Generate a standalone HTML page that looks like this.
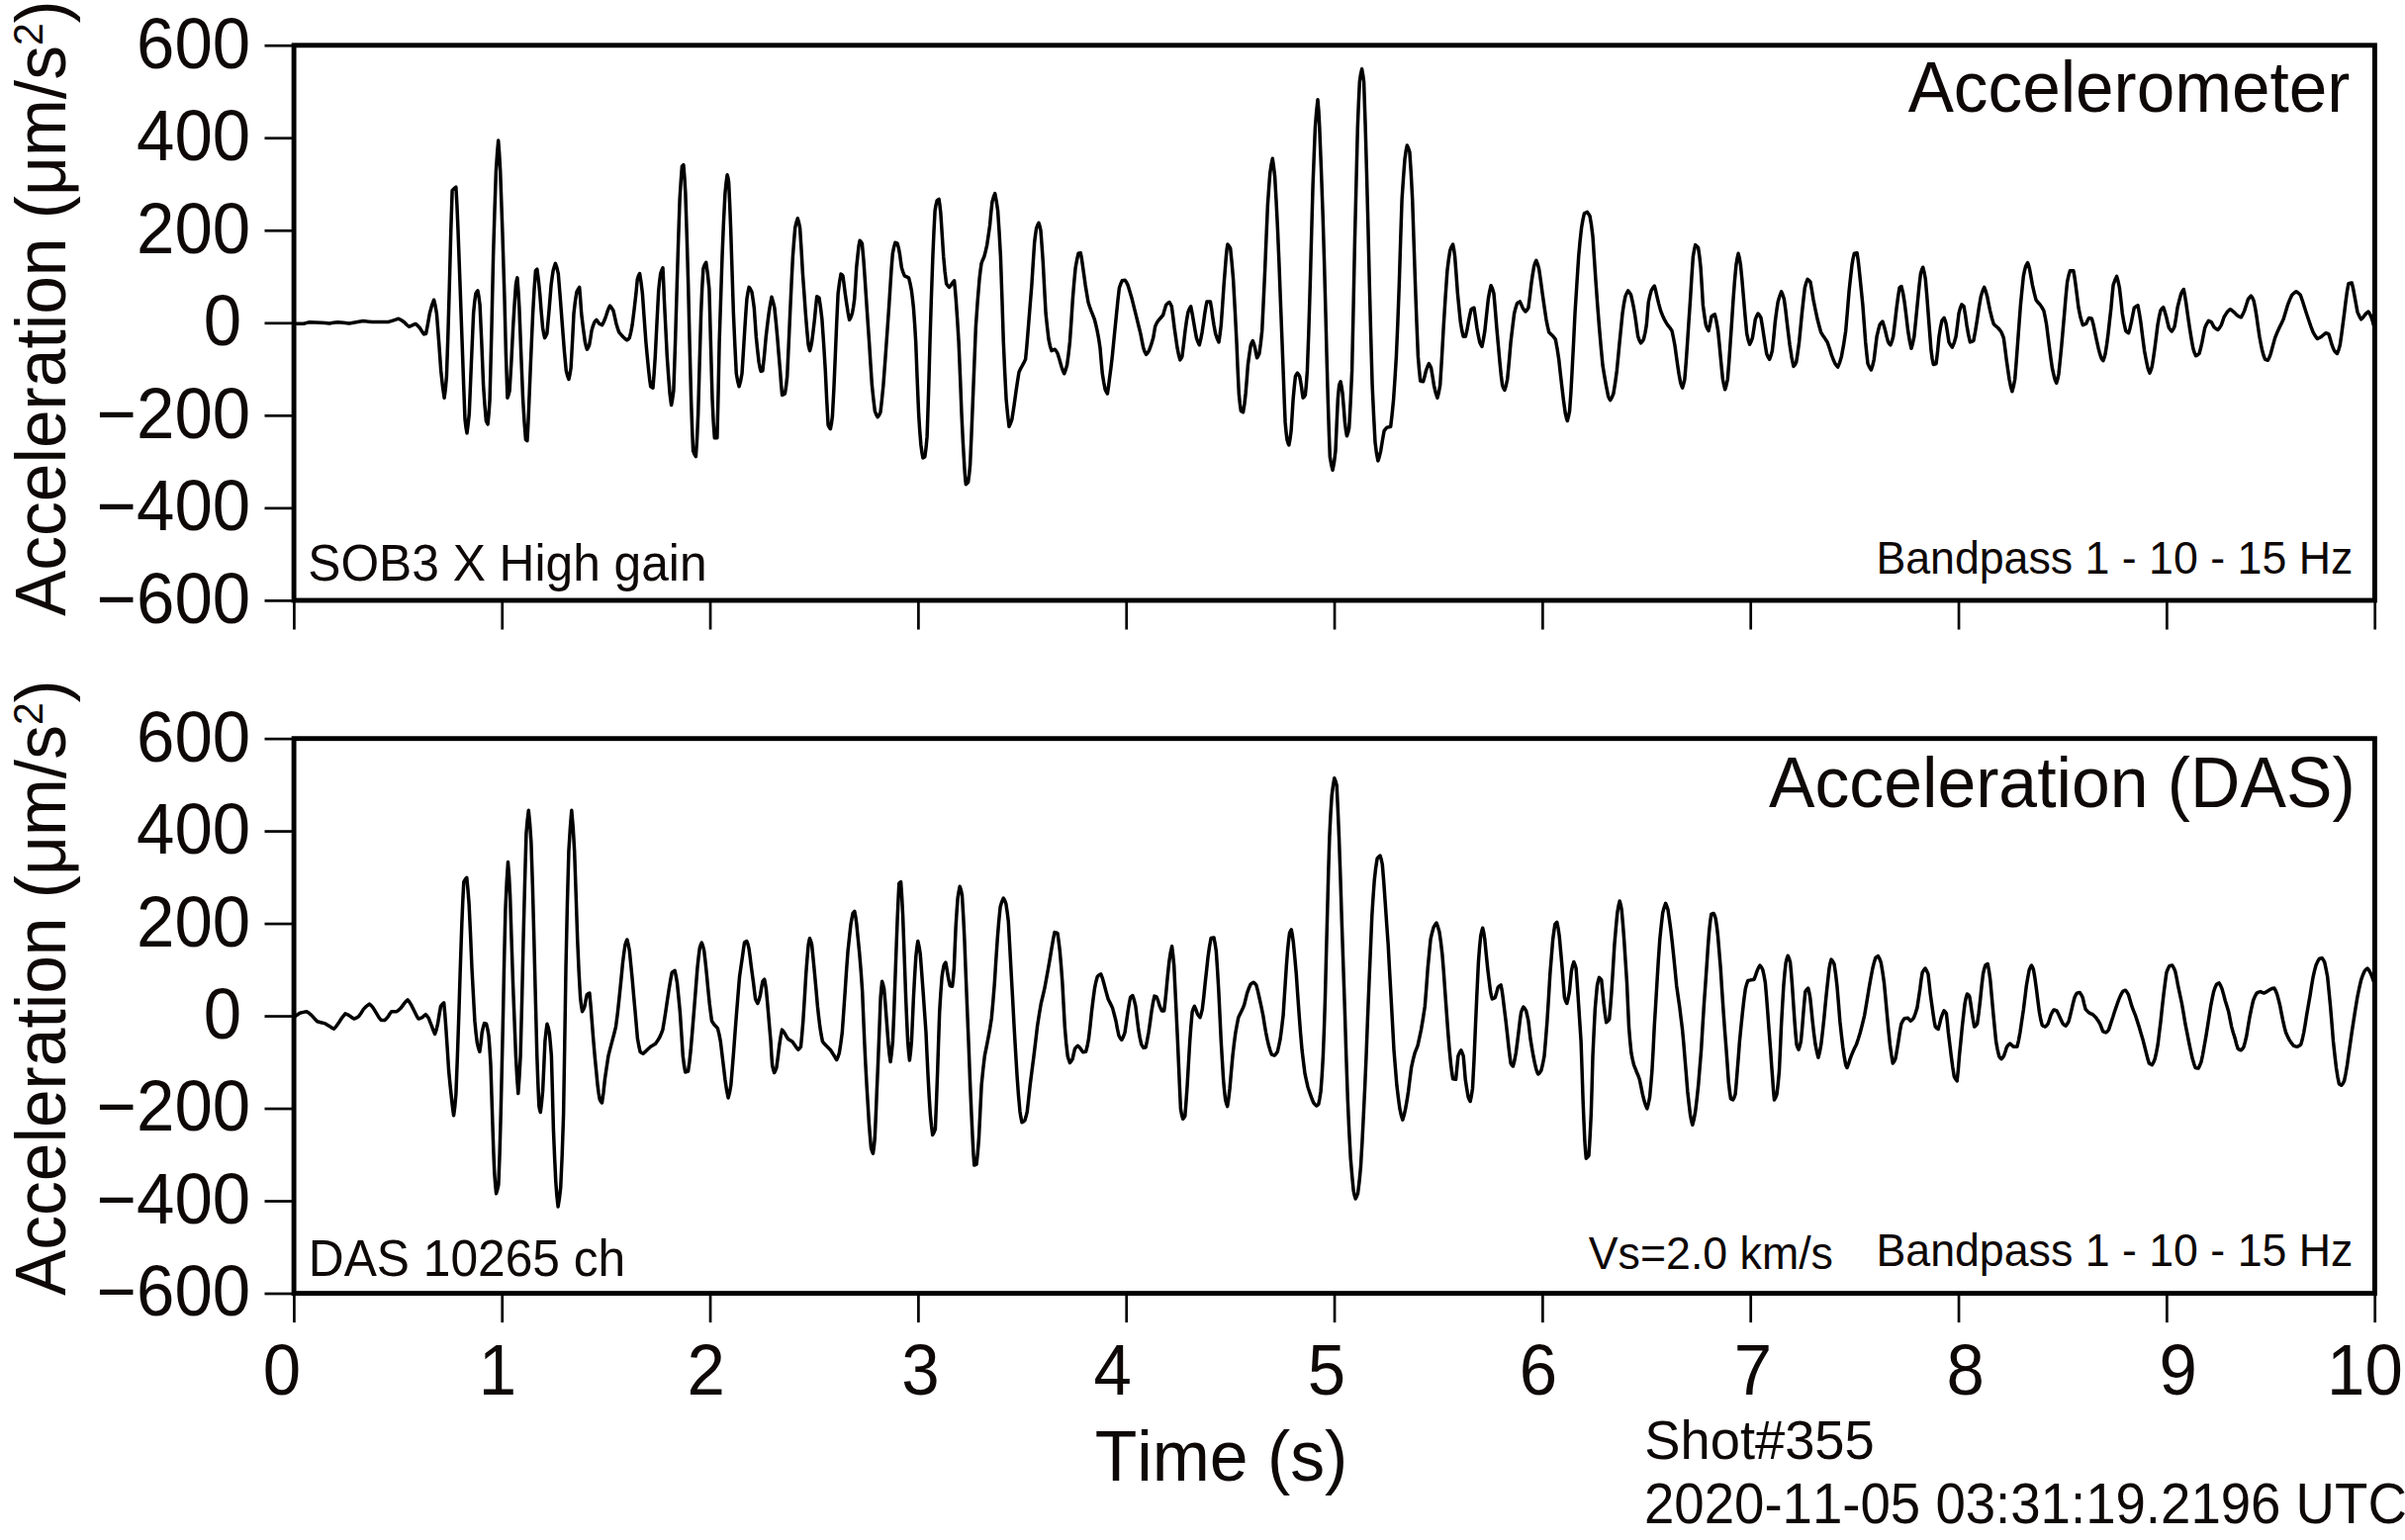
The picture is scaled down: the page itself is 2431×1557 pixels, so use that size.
<!DOCTYPE html><html><head><meta charset="utf-8"><title>Accelerometer vs DAS</title>
<style>html,body{margin:0;padding:0;background:#fff;overflow:hidden}svg{display:block}text{font-family:"Liberation Sans",sans-serif;fill:#0e0807;font-kerning:none;font-variant-ligatures:none}</style></head><body>
<svg width="2431" height="1557" viewBox="0 0 2431 1557">
<rect width="2431" height="1557" fill="#fff"/>
<rect x="297.1" y="45.8" width="2103.3" height="561.2" fill="none" stroke="#000" stroke-width="4.9"/>
<line x1="267.5" x2="297.1" y1="46.20" y2="46.20" stroke="#000" stroke-width="2.7"/>
<line x1="267.5" x2="297.1" y1="139.73" y2="139.73" stroke="#000" stroke-width="2.7"/>
<line x1="267.5" x2="297.1" y1="233.27" y2="233.27" stroke="#000" stroke-width="2.7"/>
<line x1="267.5" x2="297.1" y1="326.80" y2="326.80" stroke="#000" stroke-width="2.7"/>
<line x1="267.5" x2="297.1" y1="420.33" y2="420.33" stroke="#000" stroke-width="2.7"/>
<line x1="267.5" x2="297.1" y1="513.87" y2="513.87" stroke="#000" stroke-width="2.7"/>
<line x1="267.5" x2="297.1" y1="607.40" y2="607.40" stroke="#000" stroke-width="2.7"/>
<line x1="297.40" x2="297.40" y1="607.0" y2="636.5" stroke="#000" stroke-width="2.7"/>
<line x1="507.73" x2="507.73" y1="607.0" y2="636.5" stroke="#000" stroke-width="2.7"/>
<line x1="718.06" x2="718.06" y1="607.0" y2="636.5" stroke="#000" stroke-width="2.7"/>
<line x1="928.39" x2="928.39" y1="607.0" y2="636.5" stroke="#000" stroke-width="2.7"/>
<line x1="1138.72" x2="1138.72" y1="607.0" y2="636.5" stroke="#000" stroke-width="2.7"/>
<line x1="1349.05" x2="1349.05" y1="607.0" y2="636.5" stroke="#000" stroke-width="2.7"/>
<line x1="1559.38" x2="1559.38" y1="607.0" y2="636.5" stroke="#000" stroke-width="2.7"/>
<line x1="1769.71" x2="1769.71" y1="607.0" y2="636.5" stroke="#000" stroke-width="2.7"/>
<line x1="1980.04" x2="1980.04" y1="607.0" y2="636.5" stroke="#000" stroke-width="2.7"/>
<line x1="2190.37" x2="2190.37" y1="607.0" y2="636.5" stroke="#000" stroke-width="2.7"/>
<line x1="2400.70" x2="2400.70" y1="607.0" y2="636.5" stroke="#000" stroke-width="2.7"/>
<rect x="297.1" y="746.7" width="2103.3" height="560.9" fill="none" stroke="#000" stroke-width="4.9"/>
<line x1="267.5" x2="297.1" y1="747.10" y2="747.10" stroke="#000" stroke-width="2.7"/>
<line x1="267.5" x2="297.1" y1="840.58" y2="840.58" stroke="#000" stroke-width="2.7"/>
<line x1="267.5" x2="297.1" y1="934.07" y2="934.07" stroke="#000" stroke-width="2.7"/>
<line x1="267.5" x2="297.1" y1="1027.55" y2="1027.55" stroke="#000" stroke-width="2.7"/>
<line x1="267.5" x2="297.1" y1="1121.03" y2="1121.03" stroke="#000" stroke-width="2.7"/>
<line x1="267.5" x2="297.1" y1="1214.52" y2="1214.52" stroke="#000" stroke-width="2.7"/>
<line x1="267.5" x2="297.1" y1="1308.00" y2="1308.00" stroke="#000" stroke-width="2.7"/>
<line x1="297.40" x2="297.40" y1="1307.6" y2="1337.1" stroke="#000" stroke-width="2.7"/>
<line x1="507.73" x2="507.73" y1="1307.6" y2="1337.1" stroke="#000" stroke-width="2.7"/>
<line x1="718.06" x2="718.06" y1="1307.6" y2="1337.1" stroke="#000" stroke-width="2.7"/>
<line x1="928.39" x2="928.39" y1="1307.6" y2="1337.1" stroke="#000" stroke-width="2.7"/>
<line x1="1138.72" x2="1138.72" y1="1307.6" y2="1337.1" stroke="#000" stroke-width="2.7"/>
<line x1="1349.05" x2="1349.05" y1="1307.6" y2="1337.1" stroke="#000" stroke-width="2.7"/>
<line x1="1559.38" x2="1559.38" y1="1307.6" y2="1337.1" stroke="#000" stroke-width="2.7"/>
<line x1="1769.71" x2="1769.71" y1="1307.6" y2="1337.1" stroke="#000" stroke-width="2.7"/>
<line x1="1980.04" x2="1980.04" y1="1307.6" y2="1337.1" stroke="#000" stroke-width="2.7"/>
<line x1="2190.37" x2="2190.37" y1="1307.6" y2="1337.1" stroke="#000" stroke-width="2.7"/>
<line x1="2400.70" x2="2400.70" y1="1307.6" y2="1337.1" stroke="#000" stroke-width="2.7"/>
<path d="M297.1 327.2 L302.1 327.2 L307.1 327.2 L310.0 326.4 L312.9 325.7 L318.6 326.0 L324.3 326.3 L328.6 326.6 L332.9 326.9 L337.1 326.3 L341.4 325.7 L347.1 326.3 L352.9 326.9 L360.0 325.7 L367.1 324.5 L371.4 325.0 L375.7 325.4 L384.3 325.4 L392.9 325.4 L397.9 323.8 L402.9 322.2 L405.7 323.7 L408.6 325.7 L411.0 328.2 L413.4 330.3 L416.7 328.9 L420.0 327.4 L422.1 329.2 L424.3 331.5 L426.4 334.9 L428.6 337.9 L429.6 337.6 L430.6 337.3 L432.4 327.9 L434.3 317.0 L436.4 309.1 L438.6 303.2 L440.0 309.0 L441.4 317.0 L443.6 345.2 L445.7 374.9 L447.4 390.5 L449.1 402.3 L450.3 393.3 L451.4 380.6 L452.9 337.4 L454.3 288.1 L455.7 235.4 L457.1 192.7 L459.0 190.6 L460.9 189.2 L461.9 207.2 L462.9 230.3 L465.0 287.1 L467.1 345.9 L468.6 387.6 L470.0 424.0 L471.0 432.2 L472.0 437.9 L473.1 429.6 L474.3 418.2 L476.4 367.7 L478.6 317.0 L479.7 305.6 L480.9 296.8 L481.9 295.1 L482.9 293.9 L484.0 299.9 L485.1 308.4 L486.9 347.5 L488.6 389.3 L490.0 409.5 L491.4 425.5 L492.3 427.5 L493.1 428.9 L494.1 418.4 L495.1 403.8 L496.9 334.7 L498.6 259.2 L500.0 213.1 L501.4 172.5 L502.6 154.9 L503.7 142.1 L504.7 155.1 L505.7 172.5 L507.9 234.3 L510.0 302.6 L511.4 357.7 L512.9 402.3 L514.0 399.4 L515.1 395.1 L516.9 365.5 L518.6 331.5 L520.0 308.3 L521.4 288.1 L522.1 283.9 L522.9 280.9 L523.9 294.0 L524.9 311.2 L526.7 357.6 L528.6 403.8 L530.0 426.6 L531.4 444.3 L532.1 445.1 L532.9 445.7 L533.6 433.6 L534.3 418.2 L536.4 367.0 L538.6 317.0 L540.0 292.7 L541.4 273.7 L542.1 272.8 L542.9 272.2 L544.3 282.9 L545.7 296.8 L547.1 314.6 L548.6 331.5 L549.6 337.3 L550.6 341.6 L551.7 339.8 L552.9 337.3 L555.0 314.0 L557.1 288.1 L558.1 280.4 L559.1 273.7 L560.3 269.5 L561.4 266.4 L562.9 270.6 L564.3 276.6 L566.4 302.4 L568.6 331.5 L570.4 354.7 L572.3 374.9 L573.6 379.9 L574.9 383.5 L576.0 378.8 L577.1 372.0 L578.6 345.0 L580.0 317.0 L581.4 304.9 L582.9 295.3 L584.3 292.4 L585.7 290.4 L586.7 302.6 L587.7 317.0 L589.6 332.6 L591.4 345.9 L592.4 350.1 L593.4 353.2 L594.6 351.4 L595.7 348.8 L596.9 341.8 L598.0 334.4 L599.4 329.6 L600.9 325.7 L601.9 324.4 L602.9 323.4 L604.3 325.2 L605.7 327.2 L607.1 328.0 L608.6 328.6 L610.0 326.1 L611.4 322.8 L612.9 318.5 L614.3 314.1 L615.4 311.4 L616.6 309.2 L618.3 311.3 L620.0 314.1 L621.4 320.4 L622.9 327.2 L624.3 331.8 L625.7 335.8 L627.9 338.5 L630.0 340.7 L631.9 342.5 L633.7 343.9 L635.0 343.0 L636.3 341.6 L637.7 335.8 L639.1 328.6 L641.0 313.4 L642.9 296.8 L643.6 289.1 L644.3 282.3 L645.4 278.9 L646.6 276.6 L648.0 285.2 L649.4 296.8 L651.1 320.9 L652.9 345.9 L654.3 360.9 L655.7 374.9 L656.7 383.7 L657.7 390.8 L658.9 391.6 L660.0 392.2 L661.1 378.4 L662.3 360.4 L664.0 326.3 L665.7 293.9 L666.7 284.4 L667.7 276.6 L668.9 273.2 L670.0 270.8 L670.7 285.0 L671.4 302.6 L672.9 332.4 L674.3 360.4 L675.7 380.2 L677.1 398.0 L677.9 404.6 L678.6 409.6 L679.7 403.6 L680.9 395.1 L682.6 345.6 L684.3 288.1 L685.7 242.9 L687.1 201.4 L688.3 182.5 L689.4 168.1 L690.1 167.3 L690.9 166.7 L691.9 178.9 L692.9 195.6 L694.3 239.2 L695.7 288.1 L697.1 346.7 L698.6 403.8 L699.6 432.9 L700.6 455.8 L702.0 459.3 L703.4 461.6 L704.6 443.1 L705.7 418.2 L707.1 367.8 L708.6 317.0 L709.7 291.4 L710.9 271.3 L712.3 267.7 L713.7 265.3 L715.3 276.4 L716.9 292.5 L718.4 346.6 L720.0 403.8 L721.1 426.2 L722.3 442.8 L723.6 442.8 L724.9 442.8 L726.0 399.0 L727.1 345.9 L728.6 301.0 L730.0 259.2 L731.4 225.2 L732.9 195.6 L734.0 184.7 L735.1 176.8 L735.9 179.8 L736.6 184.0 L737.6 205.1 L738.6 230.3 L740.0 273.8 L741.4 317.0 L742.9 350.2 L744.3 377.8 L745.7 385.5 L747.1 390.8 L748.6 385.4 L750.0 377.8 L751.4 355.9 L752.9 331.5 L753.9 316.2 L754.9 302.6 L756.0 295.5 L757.1 290.4 L758.6 292.4 L760.0 295.3 L761.1 302.4 L762.3 311.2 L763.3 325.5 L764.3 340.2 L765.7 354.0 L767.1 366.2 L768.1 371.5 L769.1 375.4 L770.0 375.2 L770.9 374.9 L772.6 359.1 L774.3 340.2 L775.7 328.3 L777.1 317.0 L778.6 307.6 L780.0 300.3 L781.4 304.9 L782.9 311.2 L784.3 324.8 L785.7 340.2 L787.1 357.3 L788.6 374.9 L789.6 388.5 L790.6 399.4 L792.0 398.9 L793.4 398.0 L794.6 390.6 L795.7 380.6 L797.1 350.5 L798.6 317.0 L800.0 287.2 L801.4 259.2 L802.6 243.5 L803.7 230.3 L805.0 224.7 L806.3 220.7 L807.4 224.7 L808.6 230.3 L810.0 252.0 L811.4 276.6 L812.9 297.2 L814.3 317.0 L815.7 334.0 L817.1 348.8 L817.9 352.2 L818.6 354.6 L819.6 350.9 L820.6 345.9 L822.0 334.9 L823.4 322.8 L824.6 310.1 L825.7 299.7 L826.9 300.3 L828.0 301.1 L829.4 310.5 L830.9 322.8 L832.6 347.5 L834.3 374.9 L835.7 404.6 L837.1 429.8 L838.3 432.1 L839.4 433.6 L840.4 428.4 L841.4 421.1 L842.9 392.8 L844.3 360.4 L845.7 326.8 L847.1 296.8 L848.6 285.3 L850.0 277.1 L851.0 277.8 L852.0 278.9 L853.1 287.1 L854.3 296.8 L855.7 306.4 L857.1 315.6 L857.9 320.0 L858.6 323.4 L860.0 320.8 L861.4 317.0 L862.6 310.5 L863.7 302.6 L864.7 287.0 L865.7 270.8 L866.9 259.2 L868.0 249.1 L868.6 245.8 L869.1 243.3 L870.3 244.5 L871.4 246.2 L872.9 262.4 L874.3 282.3 L876.4 313.8 L878.6 345.9 L880.0 368.2 L881.4 389.3 L882.9 403.6 L884.3 415.3 L885.7 419.1 L887.1 421.7 L888.6 419.7 L890.0 416.8 L891.4 404.4 L892.9 389.3 L895.0 361.2 L897.1 331.5 L898.6 309.8 L900.0 288.1 L901.1 271.2 L902.3 256.3 L903.6 249.9 L904.9 245.3 L906.0 245.7 L907.1 246.2 L908.3 250.6 L909.4 256.3 L910.4 263.7 L911.4 270.8 L912.9 275.4 L914.3 278.9 L916.4 279.9 L918.6 280.9 L920.0 286.6 L921.4 293.9 L922.4 302.0 L923.4 311.2 L924.6 327.6 L925.7 345.9 L927.1 382.3 L928.6 418.2 L929.7 435.3 L930.9 450.0 L931.9 457.5 L932.9 463.0 L933.9 462.5 L934.9 461.6 L936.0 453.1 L937.1 441.4 L938.6 396.6 L940.0 345.9 L941.4 301.3 L942.9 259.2 L944.0 234.0 L945.1 212.9 L946.1 207.1 L947.1 202.8 L948.1 202.0 L949.1 201.4 L950.0 207.6 L950.9 215.8 L952.3 237.3 L953.7 259.2 L955.1 274.5 L956.6 286.7 L958.0 288.9 L959.4 290.4 L960.9 288.8 L962.3 286.7 L963.4 285.1 L964.6 283.8 L965.4 292.0 L966.3 302.6 L967.7 323.2 L969.1 345.9 L970.6 381.6 L972.0 418.2 L973.4 447.0 L974.9 473.2 L975.6 482.5 L976.3 489.7 L977.4 488.8 L978.6 487.6 L979.6 480.2 L980.6 470.3 L982.0 438.9 L983.4 403.8 L984.9 366.6 L986.3 331.5 L988.1 305.3 L990.0 282.3 L991.0 273.7 L992.0 266.4 L993.4 262.7 L994.9 259.2 L996.3 253.7 L997.7 247.6 L999.1 238.0 L1000.6 227.4 L1001.7 215.4 L1002.9 204.3 L1004.3 199.2 L1005.7 195.6 L1007.1 202.8 L1008.6 212.9 L1010.0 234.1 L1011.4 259.2 L1012.9 302.1 L1014.3 345.9 L1015.7 376.7 L1017.1 403.8 L1018.6 419.6 L1020.0 431.2 L1021.4 428.2 L1022.9 424.0 L1025.0 410.3 L1027.1 395.1 L1028.6 385.1 L1030.0 376.3 L1031.4 373.2 L1032.9 370.5 L1034.7 367.2 L1036.6 363.3 L1038.0 348.7 L1039.4 331.5 L1041.1 310.2 L1042.9 288.1 L1044.3 265.7 L1045.7 244.7 L1046.7 236.8 L1047.7 230.3 L1048.9 227.4 L1050.0 225.4 L1051.0 228.6 L1052.0 233.2 L1053.1 247.8 L1054.3 265.0 L1055.7 291.6 L1057.1 317.0 L1058.6 331.1 L1060.0 343.1 L1061.4 349.7 L1062.9 354.6 L1064.6 353.9 L1066.3 353.2 L1067.7 355.0 L1069.1 357.5 L1071.0 363.8 L1072.9 370.5 L1074.3 374.6 L1075.7 377.8 L1077.1 374.1 L1078.6 369.1 L1080.0 358.5 L1081.4 345.9 L1082.9 324.6 L1084.3 302.6 L1085.7 285.7 L1087.1 270.8 L1088.6 262.5 L1090.0 256.3 L1091.1 256.0 L1092.3 255.7 L1093.3 261.1 L1094.3 267.9 L1095.7 278.0 L1097.1 288.1 L1098.6 297.2 L1100.0 305.5 L1101.4 310.0 L1102.9 314.1 L1104.6 318.4 L1106.3 322.8 L1107.7 328.3 L1109.1 334.4 L1110.6 342.5 L1112.0 351.7 L1113.1 364.8 L1114.3 377.8 L1115.7 386.5 L1117.1 393.7 L1118.3 396.2 L1119.4 398.0 L1120.4 391.6 L1121.4 383.5 L1122.9 372.2 L1124.3 360.4 L1126.4 338.9 L1128.6 317.0 L1130.0 303.1 L1131.4 291.0 L1132.9 286.8 L1134.3 283.8 L1135.7 283.4 L1137.1 283.2 L1138.6 285.3 L1140.0 288.1 L1142.1 295.0 L1144.3 302.6 L1146.4 311.2 L1148.6 319.9 L1150.7 328.5 L1152.9 337.3 L1154.3 344.7 L1155.7 351.7 L1157.1 355.6 L1158.6 358.4 L1160.0 356.8 L1161.4 354.6 L1163.6 348.7 L1165.7 341.6 L1166.7 335.7 L1167.7 330.0 L1169.1 326.9 L1170.6 324.3 L1173.1 321.5 L1175.7 318.5 L1177.1 313.4 L1178.6 308.4 L1180.3 306.6 L1182.0 305.5 L1183.1 307.3 L1184.3 309.8 L1185.7 319.9 L1187.1 331.5 L1188.6 341.9 L1190.0 351.7 L1191.4 358.7 L1192.9 363.9 L1193.9 362.4 L1194.9 360.4 L1196.4 348.2 L1198.0 334.4 L1199.4 324.3 L1200.9 315.6 L1202.3 312.2 L1203.7 309.8 L1205.1 316.9 L1206.6 325.7 L1208.0 334.0 L1209.4 341.6 L1210.9 345.8 L1212.3 348.8 L1213.7 343.2 L1215.1 335.8 L1216.6 325.8 L1218.0 315.6 L1219.0 309.6 L1220.0 304.9 L1221.7 304.9 L1223.4 304.9 L1224.6 311.6 L1225.7 319.9 L1227.1 329.0 L1228.6 337.3 L1230.3 342.3 L1232.0 345.9 L1233.1 338.5 L1234.3 328.6 L1235.7 308.9 L1237.1 288.1 L1238.3 273.2 L1239.4 259.2 L1240.1 252.3 L1240.9 247.1 L1242.3 248.7 L1243.7 251.1 L1245.1 264.9 L1246.6 282.3 L1248.3 312.8 L1250.0 345.9 L1251.1 373.0 L1252.3 398.0 L1253.3 407.9 L1254.3 415.3 L1255.4 416.2 L1256.6 416.8 L1257.9 408.7 L1259.1 398.0 L1260.3 383.5 L1261.4 369.1 L1262.9 358.0 L1264.3 348.8 L1265.3 346.3 L1266.3 344.5 L1267.4 347.6 L1268.6 351.7 L1269.6 357.2 L1270.6 361.8 L1271.7 360.1 L1272.9 357.5 L1274.3 347.3 L1275.7 334.4 L1277.1 305.7 L1278.6 273.7 L1280.0 239.6 L1281.4 207.2 L1282.6 190.1 L1283.7 175.4 L1285.0 166.6 L1286.3 160.3 L1287.4 167.9 L1288.6 178.2 L1290.0 202.6 L1291.4 230.3 L1292.9 265.8 L1294.3 302.6 L1295.7 338.7 L1297.1 374.9 L1298.1 402.2 L1299.1 426.9 L1300.0 436.5 L1300.9 444.3 L1301.9 447.7 L1302.9 450.0 L1304.0 444.0 L1305.1 435.6 L1306.1 420.0 L1307.1 403.8 L1308.3 391.0 L1309.4 380.6 L1310.4 378.6 L1311.4 377.2 L1312.6 378.6 L1313.7 380.6 L1314.7 386.0 L1315.7 392.2 L1316.4 397.8 L1317.1 402.3 L1318.3 401.2 L1319.4 399.4 L1320.4 388.8 L1321.4 374.9 L1322.9 334.0 L1324.3 288.1 L1325.7 237.0 L1327.1 186.9 L1328.3 156.2 L1329.4 129.1 L1330.7 112.7 L1332.0 100.8 L1332.9 111.7 L1333.7 126.2 L1335.4 168.7 L1337.1 215.8 L1338.6 265.4 L1340.0 317.0 L1341.1 360.9 L1342.3 403.8 L1343.3 435.4 L1344.3 461.6 L1345.7 469.8 L1347.1 475.2 L1348.6 467.2 L1350.0 455.8 L1351.1 430.2 L1352.3 403.8 L1353.0 395.8 L1353.7 389.3 L1354.4 387.3 L1355.1 385.8 L1356.1 391.0 L1357.1 398.0 L1358.3 412.4 L1359.4 426.9 L1360.4 434.8 L1361.4 440.8 L1362.6 437.5 L1363.7 432.7 L1365.1 407.3 L1366.6 374.9 L1368.0 312.2 L1369.4 244.7 L1370.9 184.7 L1372.3 129.1 L1373.3 103.7 L1374.3 82.8 L1375.4 75.1 L1376.6 69.8 L1377.6 75.2 L1378.6 82.8 L1380.0 123.6 L1381.4 172.5 L1382.9 229.9 L1384.3 288.1 L1385.7 340.6 L1387.1 389.3 L1388.6 420.8 L1390.0 447.1 L1391.4 458.1 L1392.9 465.9 L1394.3 461.6 L1395.7 455.8 L1397.4 445.2 L1399.1 435.6 L1400.6 433.6 L1402.0 432.1 L1403.9 431.7 L1405.7 431.2 L1407.1 419.3 L1408.6 403.8 L1410.0 383.2 L1411.4 360.4 L1412.9 325.6 L1414.3 288.1 L1415.7 243.4 L1417.1 201.4 L1418.6 179.4 L1420.0 160.9 L1421.1 152.9 L1422.3 147.0 L1423.6 149.7 L1424.9 153.7 L1426.3 174.8 L1427.7 201.4 L1429.1 243.8 L1430.6 288.1 L1432.0 326.3 L1433.4 360.4 L1434.6 374.5 L1435.7 385.0 L1437.1 385.5 L1438.6 385.8 L1440.0 380.8 L1441.4 374.9 L1442.9 370.8 L1444.3 367.6 L1445.4 369.4 L1446.6 372.0 L1448.0 380.3 L1449.4 389.3 L1451.1 396.7 L1452.9 402.3 L1454.3 397.0 L1455.7 389.3 L1457.4 362.2 L1459.1 331.5 L1461.0 301.2 L1462.9 273.7 L1464.3 262.5 L1465.7 253.4 L1467.1 249.7 L1468.6 247.1 L1469.6 252.2 L1470.6 259.2 L1472.0 277.5 L1473.4 296.8 L1474.9 312.0 L1476.3 325.7 L1477.7 334.0 L1479.1 340.2 L1480.3 340.2 L1481.4 340.2 L1482.9 333.7 L1484.3 325.7 L1485.7 318.6 L1487.1 312.7 L1488.6 311.8 L1490.0 311.2 L1491.4 320.4 L1492.9 331.5 L1494.3 339.2 L1495.7 345.9 L1496.9 348.5 L1498.0 350.3 L1499.4 343.4 L1500.9 334.4 L1502.6 318.4 L1504.3 302.6 L1505.7 294.6 L1507.1 288.7 L1508.6 292.0 L1510.0 296.8 L1511.4 313.0 L1512.9 331.5 L1514.6 350.6 L1516.3 369.1 L1517.4 380.0 L1518.6 389.3 L1519.7 392.4 L1520.9 394.5 L1522.3 389.9 L1523.7 383.5 L1525.4 365.5 L1527.1 345.9 L1528.9 330.6 L1530.6 317.0 L1532.0 311.4 L1533.4 306.9 L1534.9 305.7 L1536.3 304.9 L1537.7 307.8 L1539.1 311.2 L1540.6 313.4 L1542.0 315.0 L1543.4 313.5 L1544.9 311.2 L1546.3 300.5 L1547.7 288.1 L1549.1 278.2 L1550.6 269.3 L1551.7 265.8 L1552.9 263.3 L1554.3 267.0 L1555.7 272.2 L1557.4 284.0 L1559.1 296.8 L1561.0 310.1 L1562.9 322.8 L1564.3 329.9 L1565.7 335.8 L1567.1 337.4 L1568.6 338.7 L1570.4 340.7 L1572.3 343.1 L1574.0 352.2 L1575.7 363.3 L1577.1 376.1 L1578.6 389.3 L1580.4 404.5 L1582.3 418.2 L1583.3 422.4 L1584.3 425.5 L1585.4 421.3 L1586.6 415.3 L1587.9 396.7 L1589.1 374.9 L1590.6 346.0 L1592.0 317.0 L1593.9 287.0 L1595.7 259.2 L1597.1 243.9 L1598.6 230.3 L1600.0 222.1 L1601.4 215.8 L1602.9 215.0 L1604.3 214.4 L1605.7 216.2 L1607.1 218.7 L1608.6 227.7 L1610.0 239.0 L1611.4 259.9 L1612.9 282.3 L1614.7 307.4 L1616.6 331.5 L1618.3 351.1 L1620.0 369.1 L1621.7 379.6 L1623.4 389.3 L1624.6 395.4 L1625.7 400.9 L1626.7 403.1 L1627.7 404.6 L1629.3 401.9 L1630.9 398.0 L1632.6 387.4 L1634.3 374.9 L1635.7 360.7 L1637.1 345.9 L1638.6 331.1 L1640.0 317.0 L1641.4 307.6 L1642.9 299.7 L1644.3 296.3 L1645.7 293.9 L1647.1 295.7 L1648.6 298.2 L1650.0 304.3 L1651.4 311.2 L1652.6 318.3 L1653.7 325.7 L1654.7 333.3 L1655.7 340.2 L1657.1 344.1 L1658.6 346.8 L1660.0 345.3 L1661.4 343.1 L1662.9 336.6 L1664.3 328.6 L1665.3 316.9 L1666.3 305.5 L1667.7 299.1 L1669.1 293.9 L1670.7 291.0 L1672.3 289.0 L1673.6 293.8 L1674.9 299.7 L1676.7 307.1 L1678.6 314.1 L1680.4 318.7 L1682.3 322.8 L1684.0 325.8 L1685.7 328.6 L1687.9 331.3 L1690.0 334.4 L1691.4 341.0 L1692.9 348.8 L1694.3 358.9 L1695.7 369.1 L1697.1 378.2 L1698.6 386.4 L1699.6 389.7 L1700.6 392.2 L1701.7 388.6 L1702.9 383.5 L1704.3 366.1 L1705.7 345.9 L1707.1 324.4 L1708.6 302.6 L1710.0 279.6 L1711.4 259.2 L1712.6 252.5 L1713.7 247.6 L1715.1 248.8 L1716.6 250.5 L1717.9 259.4 L1719.1 270.8 L1720.3 289.6 L1721.4 308.4 L1722.9 319.6 L1724.3 328.6 L1725.7 332.0 L1727.1 334.4 L1728.6 327.3 L1730.0 319.9 L1731.7 318.7 L1733.4 317.9 L1735.0 324.9 L1736.6 334.4 L1738.0 348.3 L1739.4 363.3 L1740.4 373.9 L1741.4 383.5 L1742.6 389.4 L1743.7 393.7 L1745.0 389.5 L1746.3 383.5 L1747.7 366.0 L1749.1 345.9 L1750.6 324.2 L1752.0 302.6 L1753.4 284.2 L1754.9 267.9 L1756.0 261.2 L1757.1 256.3 L1758.3 261.2 L1759.4 267.9 L1760.9 283.1 L1762.3 299.7 L1764.0 319.5 L1765.7 337.3 L1767.1 343.7 L1768.6 348.3 L1770.0 345.5 L1771.4 341.6 L1772.9 332.2 L1774.3 322.8 L1775.7 319.4 L1777.1 317.0 L1778.6 318.8 L1780.0 321.4 L1781.7 331.5 L1783.4 343.1 L1784.6 350.7 L1785.7 357.5 L1787.1 360.9 L1788.6 363.3 L1790.0 359.7 L1791.4 354.6 L1792.9 340.8 L1794.3 325.7 L1795.7 315.0 L1797.1 305.5 L1798.9 299.3 L1800.6 294.8 L1802.0 298.0 L1803.4 302.6 L1804.9 313.5 L1806.3 325.7 L1807.7 337.5 L1809.1 348.8 L1811.0 361.1 L1812.9 370.5 L1814.3 368.8 L1815.7 366.2 L1817.1 357.0 L1818.6 345.9 L1820.0 331.7 L1821.4 317.0 L1822.9 303.2 L1824.3 291.0 L1825.7 285.9 L1827.1 282.3 L1828.6 283.5 L1830.0 285.2 L1831.4 293.3 L1832.9 302.6 L1835.0 313.0 L1837.1 322.8 L1838.9 329.7 L1840.6 335.8 L1842.4 338.9 L1844.3 341.6 L1845.7 343.7 L1847.1 345.9 L1849.3 352.3 L1851.4 359.0 L1853.1 363.5 L1854.9 367.6 L1856.3 369.6 L1857.7 371.1 L1859.6 366.6 L1861.4 360.4 L1863.6 348.4 L1865.7 334.4 L1867.4 314.6 L1869.1 293.9 L1870.6 280.3 L1872.0 267.9 L1873.1 261.3 L1874.3 256.3 L1875.7 256.0 L1877.1 255.7 L1878.3 263.6 L1879.4 273.7 L1881.1 290.5 L1882.9 308.4 L1884.3 327.2 L1885.7 345.9 L1886.9 357.8 L1888.0 367.6 L1889.7 371.4 L1891.4 374.0 L1892.9 369.5 L1894.3 363.3 L1895.7 351.8 L1897.1 340.2 L1898.6 333.8 L1900.0 328.6 L1901.4 326.6 L1902.9 325.1 L1904.3 329.2 L1905.7 334.4 L1907.1 340.4 L1908.6 345.9 L1909.7 347.6 L1910.9 348.8 L1912.3 345.2 L1913.7 340.2 L1915.4 326.3 L1917.1 311.2 L1918.6 300.1 L1920.0 291.0 L1921.0 290.1 L1922.0 289.6 L1923.6 296.4 L1925.1 305.5 L1926.9 319.9 L1928.6 334.4 L1930.3 344.6 L1932.0 352.3 L1933.4 347.2 L1934.9 340.2 L1936.7 322.1 L1938.6 302.6 L1940.0 288.7 L1941.4 276.6 L1942.6 272.8 L1943.7 270.2 L1945.0 275.3 L1946.3 282.3 L1947.7 298.7 L1949.1 317.0 L1950.6 336.5 L1952.0 354.6 L1953.1 362.6 L1954.3 368.5 L1955.7 368.2 L1957.1 367.6 L1958.6 354.9 L1960.0 340.2 L1961.4 331.4 L1962.9 324.3 L1964.0 322.6 L1965.1 321.4 L1966.1 323.8 L1967.1 327.2 L1968.6 336.8 L1970.0 345.9 L1971.7 349.0 L1973.4 351.2 L1975.3 346.6 L1977.1 340.2 L1978.6 328.6 L1980.0 317.0 L1981.4 311.7 L1982.9 307.8 L1984.0 308.6 L1985.1 309.8 L1986.6 318.5 L1988.0 328.6 L1989.7 338.4 L1991.4 345.9 L1993.1 345.4 L1994.9 344.5 L1996.7 334.8 L1998.6 322.8 L2000.4 310.8 L2002.3 299.7 L2004.0 294.3 L2005.7 290.4 L2007.2 294.4 L2008.7 299.7 L2010.1 306.8 L2011.6 314.1 L2013.4 321.5 L2015.3 327.7 L2017.4 329.7 L2019.6 331.5 L2021.3 333.5 L2023.0 335.8 L2024.1 338.5 L2025.3 341.6 L2026.7 351.9 L2028.1 363.3 L2029.6 373.7 L2031.0 383.5 L2032.4 390.5 L2033.9 395.7 L2035.3 390.6 L2036.7 383.5 L2038.1 365.8 L2039.6 345.9 L2041.0 326.9 L2042.4 308.4 L2043.9 293.0 L2045.3 279.4 L2046.4 273.9 L2047.6 269.3 L2048.6 267.1 L2049.6 265.6 L2050.6 268.4 L2051.6 272.2 L2053.0 280.1 L2054.4 288.1 L2056.3 296.4 L2058.1 303.4 L2060.3 306.0 L2062.4 308.4 L2064.1 311.0 L2065.9 314.1 L2067.3 320.8 L2068.7 328.6 L2070.1 339.9 L2071.6 351.7 L2073.0 362.2 L2074.4 372.0 L2075.6 377.3 L2076.7 382.1 L2077.7 385.1 L2078.7 387.3 L2079.9 383.3 L2081.0 377.8 L2082.4 364.1 L2083.9 348.8 L2085.3 333.0 L2086.7 317.0 L2088.1 300.3 L2089.6 285.2 L2091.0 278.5 L2092.4 273.7 L2094.1 273.7 L2095.9 273.7 L2097.0 280.0 L2098.1 288.1 L2099.6 299.9 L2101.0 311.2 L2103.1 321.3 L2105.3 328.6 L2107.0 328.0 L2108.7 327.2 L2110.1 324.1 L2111.6 321.4 L2113.0 321.7 L2114.4 322.2 L2115.9 327.7 L2117.3 334.4 L2119.1 343.1 L2121.0 351.7 L2122.4 357.1 L2123.9 361.8 L2124.9 363.5 L2125.9 364.7 L2127.0 361.7 L2128.1 357.5 L2129.6 348.0 L2131.0 337.3 L2132.4 324.5 L2133.9 311.2 L2135.0 299.0 L2136.1 288.1 L2137.9 283.0 L2139.6 279.4 L2141.0 284.3 L2142.4 291.0 L2143.9 303.9 L2145.3 317.0 L2147.0 326.7 L2148.7 334.4 L2150.1 335.8 L2151.6 336.7 L2153.0 331.9 L2154.4 325.7 L2155.9 318.0 L2157.3 311.2 L2159.1 309.9 L2161.0 308.9 L2162.4 316.3 L2163.9 325.7 L2165.7 340.3 L2167.6 354.6 L2169.3 363.8 L2171.0 372.0 L2172.0 374.9 L2173.0 377.2 L2174.1 374.4 L2175.3 370.5 L2176.7 361.7 L2178.1 351.7 L2179.6 340.0 L2181.0 328.6 L2182.4 320.7 L2183.9 314.1 L2185.3 312.1 L2186.7 310.7 L2188.1 314.7 L2189.6 319.9 L2191.0 326.0 L2192.4 331.5 L2193.9 333.5 L2195.3 335.0 L2196.7 332.9 L2198.1 330.0 L2199.6 321.0 L2201.0 311.2 L2202.9 303.5 L2204.7 296.8 L2206.0 294.3 L2207.3 292.5 L2208.4 298.2 L2209.6 305.5 L2211.4 318.4 L2213.3 331.5 L2215.0 342.1 L2216.7 351.7 L2218.1 356.4 L2219.6 359.8 L2221.3 358.9 L2223.0 357.5 L2224.4 352.3 L2225.9 345.9 L2227.3 338.5 L2228.7 331.5 L2230.6 327.3 L2232.4 324.3 L2233.9 324.9 L2235.3 325.7 L2236.7 328.3 L2238.1 330.9 L2240.0 332.4 L2241.9 333.5 L2243.6 331.4 L2245.3 328.6 L2246.7 324.6 L2248.1 320.5 L2249.9 317.6 L2251.6 315.0 L2253.0 313.7 L2254.4 312.7 L2256.3 314.0 L2258.1 315.6 L2260.0 317.5 L2261.9 319.3 L2263.6 320.2 L2265.3 320.8 L2267.0 317.9 L2268.7 314.1 L2270.6 308.2 L2272.4 302.6 L2273.9 300.6 L2275.3 299.1 L2276.7 301.1 L2278.1 304.0 L2279.6 311.4 L2281.0 319.9 L2282.4 330.1 L2283.9 340.2 L2285.3 347.7 L2286.7 354.6 L2288.1 359.5 L2289.6 363.3 L2291.0 363.8 L2292.4 364.2 L2293.9 361.3 L2295.3 357.5 L2297.4 349.6 L2299.6 341.6 L2301.7 336.4 L2303.9 331.5 L2306.0 327.2 L2308.1 322.8 L2310.3 315.6 L2312.4 308.4 L2314.6 302.9 L2316.7 298.2 L2318.9 296.2 L2321.0 294.8 L2323.1 296.2 L2325.3 298.2 L2327.4 304.3 L2329.6 311.2 L2331.7 317.8 L2333.9 324.3 L2336.0 330.3 L2338.1 335.8 L2340.3 339.6 L2342.4 342.5 L2344.6 341.5 L2346.7 340.2 L2348.9 338.3 L2351.0 336.7 L2352.4 337.2 L2353.9 337.9 L2355.3 342.3 L2356.7 347.4 L2358.1 351.2 L2359.6 354.6 L2361.0 356.3 L2362.4 357.5 L2363.9 353.9 L2365.3 348.8 L2366.7 339.2 L2368.1 328.6 L2369.6 317.0 L2371.0 305.5 L2372.4 295.0 L2373.9 286.7 L2375.6 286.3 L2377.3 286.1 L2378.7 292.1 L2380.1 299.7 L2381.6 308.0 L2383.0 315.6 L2384.9 319.8 L2386.7 322.8 L2388.6 320.9 L2390.4 318.5 L2392.1 316.5 L2393.9 315.0 L2395.3 317.1 L2396.7 319.9 L2398.4 325.3 L2400.1 331.5" fill="none" stroke="#000" stroke-width="3.5" stroke-linejoin="round" stroke-linecap="butt"/>
<path d="M297.0 1028.7 L300.1 1026.2 L303.1 1024.2 L306.5 1023.4 L309.9 1022.7 L312.4 1024.3 L314.8 1026.3 L317.8 1029.7 L320.7 1032.8 L324.3 1033.7 L328.0 1034.6 L330.9 1036.3 L333.8 1038.1 L335.7 1039.3 L337.6 1040.2 L340.1 1037.3 L342.6 1033.7 L345.8 1028.8 L349.0 1024.8 L351.4 1025.8 L353.7 1027.2 L355.7 1028.8 L357.8 1030.1 L360.1 1029.1 L362.5 1027.8 L365.0 1024.2 L367.4 1020.4 L370.4 1017.3 L373.3 1015.1 L375.2 1016.7 L377.1 1018.9 L379.1 1022.2 L381.2 1025.7 L383.1 1028.8 L385.0 1031.3 L386.9 1031.5 L388.8 1031.6 L390.5 1029.9 L392.3 1027.8 L394.0 1025.0 L395.8 1022.7 L398.4 1022.7 L401.0 1022.7 L403.2 1021.1 L405.4 1018.9 L407.6 1015.9 L409.8 1013.0 L411.0 1011.8 L412.1 1010.9 L413.9 1013.1 L415.6 1015.9 L417.8 1020.3 L420.0 1024.8 L421.5 1027.8 L423.0 1030.1 L424.9 1029.5 L426.8 1028.7 L428.5 1027.1 L430.3 1025.7 L431.7 1027.2 L433.2 1029.2 L434.6 1032.8 L436.1 1036.6 L437.9 1041.6 L439.6 1045.5 L441.1 1041.1 L442.5 1035.2 L444.0 1025.9 L445.5 1017.4 L447.1 1015.3 L448.7 1013.9 L449.7 1024.5 L450.7 1038.1 L452.2 1060.5 L453.6 1082.5 L455.1 1097.8 L456.6 1112.0 L457.6 1120.9 L458.6 1127.7 L459.8 1118.7 L460.9 1106.1 L462.4 1067.3 L463.9 1023.3 L465.3 978.2 L466.8 934.6 L467.8 910.7 L468.8 891.7 L470.3 889.0 L471.8 887.3 L472.9 898.7 L474.1 913.9 L475.6 945.6 L477.0 979.0 L478.5 1006.9 L479.9 1032.2 L481.1 1044.3 L482.3 1054.4 L483.6 1059.6 L484.9 1063.3 L486.1 1054.4 L487.2 1044.0 L488.4 1038.6 L489.6 1034.6 L490.6 1034.8 L491.6 1035.2 L492.8 1040.1 L494.0 1047.0 L495.0 1060.4 L496.0 1076.6 L497.0 1108.1 L498.1 1141.6 L498.9 1165.0 L499.8 1186.0 L500.7 1197.9 L501.6 1206.7 L502.7 1203.1 L503.9 1197.8 L505.1 1166.2 L506.2 1126.8 L507.4 1076.2 L508.6 1023.3 L509.7 969.2 L510.9 919.8 L512.2 891.9 L513.5 871.6 L514.6 885.9 L515.6 905.0 L517.0 948.3 L518.5 993.8 L520.0 1032.0 L521.4 1067.7 L522.6 1089.2 L523.8 1105.5 L524.9 1089.6 L526.1 1067.7 L527.6 1011.1 L529.0 949.4 L530.5 892.4 L531.9 842.9 L533.1 829.1 L534.3 819.3 L535.6 832.9 L536.9 851.8 L538.4 897.5 L539.8 949.4 L541.3 1009.6 L542.8 1067.7 L543.8 1095.5 L544.8 1118.0 L545.5 1121.8 L546.3 1124.5 L547.4 1115.5 L548.6 1103.2 L549.8 1078.0 L550.9 1052.9 L552.0 1042.6 L553.0 1035.2 L554.2 1038.8 L555.3 1044.0 L556.3 1054.5 L557.4 1067.7 L558.4 1103.4 L559.4 1141.6 L560.6 1170.0 L561.8 1194.8 L562.9 1209.3 L564.1 1220.0 L565.4 1212.0 L566.7 1200.8 L568.2 1168.0 L569.6 1126.8 L570.8 1054.6 L572.0 979.0 L573.4 915.1 L574.9 860.7 L576.4 836.5 L577.8 819.3 L579.3 836.8 L580.7 860.7 L582.2 904.2 L583.7 949.4 L585.1 981.3 L586.6 1008.5 L587.6 1016.8 L588.6 1022.7 L589.8 1020.5 L591.0 1017.4 L592.1 1011.2 L593.3 1005.6 L594.6 1004.7 L595.9 1004.1 L597.1 1016.6 L598.3 1032.2 L599.7 1050.1 L601.2 1067.7 L602.7 1083.0 L604.1 1097.3 L605.1 1105.0 L606.2 1111.5 L607.3 1113.6 L608.5 1115.0 L610.0 1104.4 L611.4 1091.3 L613.2 1079.0 L614.9 1067.7 L616.8 1060.1 L618.7 1052.9 L620.6 1045.8 L622.5 1038.1 L624.3 1024.1 L626.0 1008.5 L627.8 990.7 L629.5 973.1 L630.7 963.6 L631.9 955.3 L632.9 952.2 L633.9 950.0 L635.1 954.8 L636.3 961.2 L637.7 975.3 L639.2 990.8 L640.6 1007.0 L642.1 1023.3 L643.3 1037.2 L644.4 1049.9 L645.8 1057.5 L647.1 1063.3 L648.5 1064.5 L650.0 1065.3 L651.9 1063.7 L653.8 1061.8 L655.7 1060.0 L657.6 1058.2 L660.1 1056.8 L662.6 1055.3 L664.8 1052.1 L666.9 1048.5 L668.4 1045.0 L669.9 1041.1 L671.3 1032.7 L672.8 1023.3 L674.5 1011.4 L676.3 999.7 L677.8 990.7 L679.2 983.4 L680.7 982.2 L682.1 981.3 L683.3 986.6 L684.5 993.8 L685.9 1007.7 L687.4 1023.3 L688.9 1046.0 L690.3 1067.7 L691.5 1077.1 L692.7 1084.0 L694.1 1083.6 L695.6 1083.1 L696.9 1073.8 L698.2 1061.8 L699.8 1043.0 L701.4 1023.3 L703.2 1000.8 L704.9 979.0 L706.1 967.8 L707.3 958.3 L708.3 955.2 L709.3 953.0 L710.5 956.4 L711.7 961.2 L713.0 972.4 L714.3 984.9 L715.7 999.8 L717.2 1014.5 L718.4 1024.1 L719.5 1032.2 L721.0 1034.6 L722.5 1036.6 L723.9 1038.0 L725.4 1039.6 L726.9 1045.6 L728.3 1052.9 L730.6 1071.9 L732.9 1091.3 L734.5 1101.9 L736.1 1110.0 L737.5 1104.6 L738.8 1097.3 L740.2 1080.5 L741.7 1061.8 L743.1 1042.6 L744.6 1023.3 L746.1 1005.0 L747.5 987.8 L749.0 977.2 L750.5 967.1 L751.5 959.4 L752.5 953.0 L753.7 952.1 L754.8 951.5 L755.9 954.3 L756.9 958.3 L758.1 966.8 L759.2 976.0 L760.4 984.9 L761.6 993.8 L762.6 1002.4 L763.6 1010.0 L764.8 1012.7 L765.9 1014.5 L767.3 1010.7 L768.6 1005.6 L769.7 998.6 L770.9 992.3 L771.8 991.1 L772.7 990.2 L773.5 994.2 L774.4 999.7 L775.6 1012.4 L776.8 1026.3 L777.9 1039.3 L779.1 1052.9 L779.8 1065.3 L780.6 1076.6 L781.6 1081.3 L782.6 1084.5 L783.8 1082.5 L784.9 1079.5 L786.4 1068.2 L787.9 1055.9 L789.2 1047.5 L790.5 1041.1 L791.7 1042.4 L792.8 1044.0 L794.7 1047.4 L796.6 1050.5 L798.7 1051.7 L800.7 1052.9 L802.6 1055.5 L804.5 1058.2 L805.7 1059.9 L806.9 1061.2 L808.2 1060.0 L809.5 1058.2 L810.6 1046.7 L811.8 1032.2 L813.3 1008.7 L814.7 984.9 L815.9 969.1 L817.1 955.3 L817.8 951.5 L818.5 948.8 L819.6 951.5 L820.6 955.3 L822.0 969.1 L823.5 984.9 L825.0 1001.3 L826.4 1017.4 L827.6 1028.2 L828.8 1038.1 L830.1 1046.2 L831.4 1052.9 L833.3 1055.3 L835.2 1057.3 L837.4 1059.5 L839.6 1061.8 L841.5 1064.7 L843.4 1067.7 L844.5 1069.8 L845.7 1071.5 L847.0 1068.7 L848.3 1064.7 L849.8 1055.3 L851.3 1044.0 L852.7 1024.1 L854.2 1002.6 L855.6 981.4 L857.1 961.2 L858.6 947.2 L860.0 934.6 L861.1 928.4 L862.1 923.4 L863.0 922.2 L863.8 921.3 L864.9 927.1 L865.9 934.6 L867.3 948.8 L868.8 964.2 L870.3 982.4 L871.7 1002.6 L872.7 1027.3 L873.8 1052.9 L874.9 1075.6 L876.1 1097.3 L877.3 1117.0 L878.4 1135.7 L879.5 1149.4 L880.5 1160.8 L881.5 1164.0 L882.5 1166.2 L883.4 1159.6 L884.3 1150.5 L885.3 1128.1 L886.3 1103.2 L887.4 1078.2 L888.4 1052.9 L889.3 1029.8 L890.1 1008.5 L890.9 999.2 L891.6 992.3 L892.6 995.3 L893.6 999.7 L894.8 1013.5 L896.0 1029.2 L897.0 1042.8 L898.0 1055.9 L899.0 1065.9 L900.1 1073.6 L901.2 1065.0 L902.4 1052.9 L903.6 1025.1 L904.7 993.8 L905.9 960.8 L907.1 928.7 L908.0 908.8 L908.8 893.2 L909.7 892.3 L910.6 891.7 L911.6 906.4 L912.6 925.7 L914.1 966.5 L915.6 1008.5 L916.6 1031.9 L917.6 1052.9 L918.5 1063.9 L919.4 1072.1 L920.4 1064.0 L921.4 1052.9 L922.4 1031.5 L923.4 1008.5 L924.6 986.7 L925.8 967.1 L926.8 958.1 L927.8 951.5 L929.0 956.8 L930.2 964.2 L931.6 982.4 L933.1 1002.6 L934.5 1022.7 L936.0 1044.0 L937.0 1066.0 L938.1 1088.4 L939.2 1108.6 L940.4 1126.8 L941.6 1138.7 L942.7 1147.5 L944.0 1145.2 L945.4 1141.6 L946.5 1115.0 L947.7 1082.5 L948.7 1052.1 L949.7 1023.3 L950.9 1004.0 L952.1 987.8 L953.1 981.3 L954.1 976.0 L955.0 974.3 L955.9 973.1 L956.9 978.4 L957.9 984.9 L959.1 991.5 L960.3 996.7 L961.4 997.1 L962.6 997.3 L963.5 989.6 L964.4 979.0 L965.2 958.6 L966.1 937.6 L967.1 921.7 L968.1 908.0 L969.2 901.1 L970.2 896.2 L971.4 899.8 L972.5 905.0 L973.7 925.2 L974.9 949.4 L976.3 985.8 L977.8 1023.3 L979.3 1060.5 L980.7 1097.3 L981.9 1124.6 L983.1 1150.5 L983.9 1166.1 L984.8 1178.0 L986.0 1177.6 L987.1 1177.1 L988.3 1165.6 L989.5 1150.5 L990.8 1123.6 L992.1 1097.3 L993.7 1081.3 L995.3 1067.7 L997.1 1058.6 L998.8 1049.9 L1000.6 1040.1 L1002.3 1029.2 L1003.8 1012.4 L1005.3 993.8 L1006.7 971.5 L1008.2 949.4 L1009.6 931.8 L1011.1 916.9 L1012.7 911.6 L1014.3 908.0 L1015.6 910.4 L1016.9 913.9 L1018.1 921.9 L1019.3 931.7 L1020.7 957.0 L1022.2 984.9 L1023.7 1011.6 L1025.1 1038.1 L1026.6 1063.8 L1028.1 1088.4 L1029.5 1107.3 L1031.0 1123.9 L1032.0 1130.2 L1033.0 1134.8 L1034.5 1134.0 L1035.9 1132.7 L1037.1 1128.8 L1038.3 1123.9 L1039.7 1111.1 L1041.2 1097.3 L1043.1 1082.4 L1045.0 1067.7 L1046.8 1052.7 L1048.5 1038.1 L1050.4 1025.8 L1052.3 1014.5 L1054.1 1007.0 L1055.8 999.7 L1057.7 989.5 L1059.6 979.0 L1061.4 968.6 L1063.1 958.3 L1064.6 949.5 L1066.0 942.6 L1067.5 942.9 L1069.0 943.5 L1070.1 951.2 L1071.3 961.2 L1072.6 976.7 L1073.9 993.8 L1075.1 1016.2 L1076.3 1038.1 L1077.7 1054.4 L1079.2 1067.7 L1080.4 1071.7 L1081.5 1074.5 L1082.8 1072.9 L1084.2 1070.6 L1085.3 1065.4 L1086.5 1060.3 L1088.0 1058.5 L1089.4 1057.3 L1090.9 1058.6 L1092.3 1060.3 L1093.5 1062.2 L1094.7 1063.8 L1096.1 1063.6 L1097.6 1063.3 L1099.1 1057.5 L1100.5 1049.9 L1102.0 1037.0 L1103.4 1023.3 L1104.9 1011.0 L1106.4 999.7 L1107.8 992.7 L1109.3 987.3 L1111.0 985.8 L1112.8 984.9 L1114.3 988.8 L1115.7 993.8 L1117.9 1002.1 L1120.1 1010.0 L1122.3 1014.4 L1124.5 1018.9 L1126.2 1025.2 L1128.0 1032.2 L1129.4 1039.9 L1130.9 1047.0 L1132.4 1049.6 L1133.8 1051.4 L1135.4 1048.4 L1137.0 1044.0 L1138.5 1034.1 L1140.0 1023.3 L1141.3 1015.2 L1142.6 1008.5 L1143.8 1007.3 L1144.9 1006.5 L1146.4 1011.1 L1147.9 1017.4 L1149.3 1029.1 L1150.8 1041.1 L1152.2 1049.1 L1153.7 1055.9 L1154.9 1057.9 L1156.0 1059.4 L1157.1 1059.2 L1158.1 1058.8 L1159.5 1052.3 L1161.0 1044.0 L1162.5 1033.7 L1163.9 1023.3 L1165.4 1014.2 L1166.9 1007.1 L1168.0 1007.4 L1169.2 1008.0 L1170.8 1012.4 L1172.3 1017.4 L1173.4 1019.9 L1174.4 1021.9 L1175.6 1021.9 L1176.7 1021.9 L1177.7 1013.4 L1178.8 1002.6 L1180.2 987.4 L1181.7 973.1 L1183.1 963.7 L1184.6 956.8 L1185.6 964.9 L1186.7 976.0 L1187.8 998.6 L1189.0 1023.3 L1190.2 1048.3 L1191.3 1073.6 L1192.4 1099.0 L1193.4 1120.9 L1194.5 1127.1 L1195.7 1131.3 L1196.7 1130.1 L1197.8 1128.3 L1198.9 1114.4 L1200.1 1097.3 L1201.4 1075.0 L1202.7 1052.9 L1203.9 1036.8 L1205.1 1023.3 L1206.2 1019.8 L1207.4 1017.4 L1208.9 1020.8 L1210.3 1024.8 L1211.6 1027.0 L1213.0 1028.7 L1214.1 1025.2 L1215.3 1020.4 L1216.8 1007.7 L1218.2 993.8 L1219.7 980.2 L1221.1 967.1 L1222.6 956.7 L1224.1 948.5 L1225.5 948.2 L1227.0 947.9 L1228.1 953.5 L1229.3 961.2 L1230.6 980.5 L1231.9 1002.6 L1233.1 1027.7 L1234.3 1052.9 L1235.5 1072.9 L1236.6 1091.3 L1237.6 1102.6 L1238.7 1112.0 L1239.7 1115.9 L1240.7 1118.6 L1241.9 1110.6 L1243.1 1100.2 L1244.5 1084.0 L1246.0 1067.7 L1247.4 1055.4 L1248.9 1044.0 L1250.4 1035.8 L1251.8 1028.7 L1253.3 1025.6 L1254.7 1022.7 L1256.2 1019.5 L1257.7 1015.9 L1259.1 1010.1 L1260.6 1004.1 L1262.3 999.3 L1264.1 995.2 L1265.6 994.0 L1267.0 993.2 L1268.5 994.4 L1269.9 996.1 L1271.4 1001.9 L1272.9 1008.5 L1274.8 1017.2 L1276.7 1026.3 L1278.1 1035.2 L1279.6 1044.0 L1281.0 1050.9 L1282.5 1057.3 L1284.0 1062.3 L1285.4 1066.2 L1286.9 1066.7 L1288.3 1067.1 L1289.8 1065.5 L1291.3 1063.3 L1292.7 1057.2 L1294.2 1049.9 L1295.6 1039.0 L1297.1 1026.3 L1298.1 1010.5 L1299.2 993.8 L1300.3 976.9 L1301.5 961.2 L1302.5 951.5 L1303.5 943.5 L1304.4 941.4 L1305.3 939.9 L1306.3 945.3 L1307.3 952.4 L1308.8 967.8 L1310.3 984.9 L1311.7 1005.5 L1313.2 1026.3 L1314.6 1044.6 L1316.1 1061.8 L1317.6 1074.2 L1319.0 1085.4 L1320.5 1092.4 L1321.9 1098.7 L1323.4 1103.3 L1324.9 1107.6 L1326.3 1111.5 L1327.8 1115.0 L1329.3 1116.7 L1330.7 1118.0 L1331.7 1117.4 L1332.8 1116.5 L1333.9 1110.8 L1335.1 1103.2 L1336.3 1087.0 L1337.4 1067.7 L1338.5 1039.6 L1339.5 1008.5 L1340.6 964.8 L1341.8 919.8 L1342.8 881.4 L1343.9 845.9 L1345.0 823.3 L1346.2 804.5 L1347.5 794.2 L1348.8 786.8 L1350.0 789.7 L1351.2 794.2 L1352.3 817.4 L1353.5 845.9 L1355.0 889.5 L1356.4 934.6 L1357.9 979.0 L1359.4 1023.3 L1360.8 1068.7 L1362.3 1112.0 L1363.7 1143.2 L1365.2 1171.2 L1366.7 1188.9 L1368.1 1203.7 L1369.1 1208.5 L1370.2 1212.0 L1371.3 1209.8 L1372.5 1206.7 L1374.0 1194.8 L1375.4 1180.1 L1376.9 1154.8 L1378.3 1126.8 L1379.7 1097.8 L1381.0 1067.7 L1382.4 1030.8 L1383.9 993.8 L1385.4 958.8 L1386.8 925.7 L1388.0 907.0 L1389.2 890.3 L1390.6 877.8 L1392.1 868.1 L1393.5 866.3 L1395.0 865.1 L1396.2 868.8 L1397.3 874.0 L1398.8 892.6 L1400.3 913.9 L1401.7 934.3 L1403.2 955.3 L1404.6 981.6 L1406.1 1008.5 L1407.6 1035.8 L1409.0 1061.8 L1410.5 1080.3 L1411.9 1097.3 L1413.4 1109.8 L1414.9 1120.9 L1416.3 1127.4 L1417.8 1132.2 L1419.3 1127.3 L1420.7 1120.9 L1422.2 1112.4 L1423.6 1103.2 L1425.1 1091.1 L1426.6 1079.5 L1428.3 1071.6 L1430.1 1064.7 L1431.5 1061.1 L1433.0 1057.3 L1434.7 1049.6 L1436.5 1041.1 L1438.4 1029.9 L1440.3 1017.4 L1441.8 998.7 L1443.2 979.0 L1444.7 963.3 L1446.1 949.4 L1447.6 942.9 L1449.1 937.6 L1450.5 935.0 L1452.0 933.1 L1453.4 936.9 L1454.9 942.0 L1456.4 952.2 L1457.8 964.2 L1459.3 982.7 L1460.7 1002.6 L1462.2 1023.5 L1463.7 1044.0 L1465.1 1061.0 L1466.6 1076.6 L1467.6 1084.6 L1468.6 1090.8 L1470.1 1091.1 L1471.6 1091.3 L1472.7 1080.0 L1473.9 1067.7 L1475.4 1064.2 L1476.8 1061.8 L1478.0 1064.2 L1479.2 1067.7 L1480.2 1079.1 L1481.2 1091.3 L1482.7 1101.0 L1484.1 1109.1 L1485.1 1111.7 L1486.2 1113.5 L1487.3 1108.0 L1488.5 1100.2 L1490.0 1071.3 L1491.4 1038.1 L1492.9 1004.5 L1494.4 973.1 L1495.5 958.6 L1496.7 946.4 L1497.7 941.6 L1498.7 938.2 L1499.8 943.0 L1500.8 949.4 L1502.2 963.9 L1503.7 979.0 L1505.2 991.4 L1506.6 1002.6 L1507.5 1006.9 L1508.4 1010.0 L1509.8 1009.4 L1511.3 1008.5 L1512.8 1003.4 L1514.2 998.2 L1515.7 996.8 L1517.1 995.8 L1518.2 1001.4 L1519.2 1008.5 L1520.6 1020.1 L1522.1 1032.2 L1523.6 1045.5 L1525.0 1058.8 L1526.1 1067.7 L1527.1 1075.1 L1528.2 1076.9 L1529.4 1078.0 L1530.9 1072.3 L1532.3 1064.7 L1533.8 1053.2 L1535.3 1041.1 L1536.4 1031.6 L1537.6 1023.3 L1538.8 1020.2 L1539.9 1018.0 L1541.2 1019.6 L1542.6 1021.9 L1543.7 1026.5 L1544.9 1032.2 L1545.9 1040.9 L1546.9 1049.9 L1548.4 1059.1 L1549.9 1067.7 L1551.3 1074.7 L1552.8 1081.0 L1553.8 1083.9 L1554.8 1086.0 L1556.3 1084.6 L1557.8 1082.5 L1559.4 1076.0 L1561.0 1067.7 L1562.4 1051.1 L1563.9 1032.2 L1565.4 1008.5 L1566.8 984.9 L1568.3 966.3 L1569.7 949.4 L1570.8 941.2 L1571.8 934.6 L1572.8 933.2 L1573.8 932.3 L1575.0 938.3 L1576.2 946.4 L1577.6 962.0 L1579.1 979.0 L1580.3 994.8 L1581.4 1008.5 L1582.6 1012.1 L1583.8 1014.5 L1585.1 1009.5 L1586.4 1002.6 L1587.4 992.2 L1588.4 981.9 L1589.6 976.4 L1590.8 972.5 L1591.9 975.1 L1593.1 979.0 L1594.1 992.6 L1595.2 1008.5 L1596.6 1029.8 L1598.1 1052.9 L1599.1 1081.8 L1600.1 1112.0 L1601.0 1133.7 L1601.9 1153.4 L1602.6 1163.6 L1603.3 1171.2 L1604.7 1170.0 L1606.0 1168.2 L1607.1 1150.4 L1608.3 1126.8 L1609.2 1097.5 L1610.0 1067.7 L1611.2 1042.5 L1612.3 1020.4 L1613.4 1007.6 L1614.4 996.7 L1615.4 991.9 L1616.4 988.4 L1617.6 989.4 L1618.8 990.8 L1619.9 1001.8 L1621.1 1014.5 L1622.4 1025.3 L1623.7 1033.7 L1625.2 1032.5 L1626.7 1030.7 L1627.8 1018.2 L1629.0 1002.6 L1630.5 978.9 L1631.9 955.3 L1633.4 938.0 L1634.8 922.8 L1636.0 916.0 L1637.2 911.0 L1638.2 914.7 L1639.2 919.8 L1640.4 933.6 L1641.6 949.4 L1643.0 970.9 L1644.5 993.8 L1645.5 1016.3 L1646.5 1038.1 L1647.7 1052.5 L1648.9 1064.7 L1650.2 1071.1 L1651.5 1076.6 L1653.0 1080.4 L1654.4 1084.0 L1655.9 1087.5 L1657.3 1091.3 L1658.8 1098.6 L1660.3 1106.1 L1661.4 1110.7 L1662.6 1115.0 L1663.8 1118.4 L1664.9 1120.9 L1666.2 1116.0 L1667.6 1109.1 L1668.7 1096.8 L1669.9 1082.5 L1671.1 1060.8 L1672.2 1038.1 L1673.6 1015.7 L1674.9 993.8 L1676.3 970.8 L1677.8 949.4 L1679.3 935.0 L1680.7 922.8 L1682.2 917.3 L1683.6 913.3 L1684.8 916.1 L1686.0 919.8 L1687.4 929.5 L1688.9 940.5 L1690.4 953.6 L1691.8 967.1 L1693.3 982.1 L1694.7 996.7 L1696.2 1007.2 L1697.7 1017.4 L1699.1 1028.9 L1700.6 1041.1 L1701.8 1054.1 L1702.9 1067.7 L1704.4 1085.7 L1705.8 1103.2 L1707.2 1115.7 L1708.5 1126.8 L1709.6 1132.8 L1710.8 1137.2 L1712.3 1131.5 L1713.7 1123.9 L1715.2 1111.3 L1716.7 1097.3 L1718.1 1080.1 L1719.6 1061.8 L1721.0 1038.3 L1722.5 1014.5 L1724.0 993.6 L1725.4 973.1 L1726.4 957.8 L1727.5 943.5 L1728.6 932.6 L1729.8 924.3 L1731.0 923.7 L1732.1 923.4 L1733.2 925.6 L1734.2 928.7 L1735.4 936.8 L1736.5 946.4 L1737.8 962.1 L1739.2 979.0 L1740.6 1001.1 L1742.1 1023.3 L1743.5 1042.6 L1745.0 1061.8 L1746.2 1078.5 L1747.3 1094.3 L1748.4 1103.5 L1749.4 1110.6 L1750.6 1111.5 L1751.7 1112.0 L1752.9 1109.6 L1754.1 1106.1 L1755.1 1095.2 L1756.1 1082.5 L1757.3 1067.6 L1758.4 1052.9 L1759.9 1037.7 L1761.4 1023.3 L1762.8 1010.8 L1764.3 999.7 L1765.6 994.9 L1766.9 991.4 L1768.5 991.1 L1770.1 990.8 L1771.6 990.5 L1773.1 990.2 L1774.5 986.4 L1776.0 981.9 L1777.4 978.6 L1778.9 976.0 L1780.4 977.8 L1781.8 980.5 L1783.1 986.4 L1784.4 993.8 L1785.6 1007.8 L1786.8 1023.3 L1788.2 1042.4 L1789.7 1061.8 L1790.7 1076.7 L1791.8 1091.3 L1792.6 1103.0 L1793.5 1112.0 L1794.8 1109.6 L1796.1 1106.1 L1797.3 1095.6 L1798.5 1082.5 L1799.5 1060.9 L1800.5 1038.1 L1801.7 1016.5 L1802.9 996.7 L1804.0 983.8 L1805.2 973.1 L1806.2 969.1 L1807.2 966.3 L1808.4 969.0 L1809.6 973.1 L1810.6 983.9 L1811.6 996.7 L1812.8 1014.5 L1814.0 1032.2 L1815.0 1045.0 L1816.0 1055.9 L1817.0 1059.0 L1818.1 1061.2 L1819.2 1057.8 L1820.4 1052.9 L1821.6 1040.4 L1822.7 1026.3 L1823.8 1013.4 L1824.8 1002.6 L1826.2 1000.5 L1827.7 999.1 L1828.7 1003.1 L1829.7 1008.5 L1830.9 1020.0 L1832.1 1032.2 L1833.5 1044.6 L1835.0 1055.9 L1836.5 1063.5 L1837.9 1069.2 L1839.4 1063.5 L1840.8 1055.9 L1842.3 1043.1 L1843.8 1029.2 L1845.2 1014.4 L1846.7 999.7 L1847.9 988.8 L1849.0 979.0 L1850.0 973.9 L1851.1 970.1 L1852.5 971.9 L1854.0 974.5 L1855.5 984.5 L1856.9 996.7 L1858.4 1014.3 L1859.8 1032.2 L1861.3 1046.0 L1862.8 1058.8 L1864.2 1068.4 L1865.7 1076.6 L1866.4 1078.3 L1867.1 1079.5 L1868.6 1075.5 L1870.1 1070.6 L1871.5 1066.9 L1873.0 1063.3 L1874.7 1059.6 L1876.5 1055.9 L1878.4 1050.2 L1880.3 1044.0 L1882.5 1035.5 L1884.7 1026.3 L1886.9 1013.2 L1889.1 999.7 L1891.0 989.0 L1892.9 979.0 L1894.3 973.3 L1895.8 968.6 L1897.1 967.4 L1898.4 966.6 L1899.9 969.3 L1901.3 973.1 L1902.9 982.5 L1904.5 993.8 L1906.0 1009.6 L1907.5 1026.3 L1908.9 1041.5 L1910.4 1055.9 L1911.9 1066.8 L1913.3 1075.1 L1914.6 1073.3 L1915.9 1070.6 L1917.4 1062.3 L1918.9 1052.9 L1920.3 1043.5 L1921.8 1035.2 L1923.4 1032.1 L1925.0 1029.8 L1926.8 1029.5 L1928.5 1029.2 L1930.0 1030.7 L1931.4 1032.2 L1932.9 1031.0 L1934.4 1029.2 L1936.1 1024.6 L1937.9 1018.9 L1939.3 1009.7 L1940.8 999.7 L1941.9 991.0 L1943.1 983.4 L1944.6 980.8 L1946.0 979.0 L1947.5 981.4 L1949.0 984.9 L1950.1 994.6 L1951.3 1005.6 L1952.8 1016.2 L1954.2 1026.3 L1955.2 1032.8 L1956.3 1038.1 L1957.7 1039.5 L1959.2 1040.5 L1960.6 1035.4 L1962.1 1029.2 L1963.6 1025.0 L1965.0 1021.9 L1966.2 1023.0 L1967.4 1024.8 L1968.4 1033.7 L1969.4 1044.0 L1970.9 1056.1 L1972.3 1067.7 L1973.8 1078.9 L1975.3 1088.4 L1976.7 1091.0 L1978.2 1092.8 L1979.4 1081.6 L1980.5 1067.7 L1982.0 1052.8 L1983.4 1038.1 L1984.8 1025.7 L1986.1 1014.5 L1987.2 1009.0 L1988.4 1005.0 L1989.6 1005.8 L1990.7 1007.1 L1991.8 1013.2 L1992.8 1020.4 L1994.3 1030.3 L1995.7 1038.1 L1997.2 1036.9 L1998.6 1035.2 L2000.1 1024.4 L2001.6 1011.5 L2003.0 997.7 L2004.5 984.9 L2005.6 979.9 L2006.8 976.0 L2008.0 975.1 L2009.2 974.5 L2010.5 981.5 L2011.8 990.8 L2013.2 1006.6 L2014.7 1023.3 L2016.2 1038.8 L2017.6 1052.9 L2019.1 1061.1 L2020.6 1067.7 L2021.7 1069.4 L2022.9 1070.6 L2024.2 1069.4 L2025.5 1067.7 L2027.0 1063.3 L2028.4 1058.8 L2030.0 1056.6 L2031.7 1055.0 L2033.4 1056.6 L2035.2 1058.2 L2037.1 1058.2 L2039.0 1058.2 L2040.4 1052.1 L2041.9 1044.0 L2043.6 1032.5 L2045.4 1020.4 L2046.9 1008.4 L2048.3 996.7 L2049.8 988.0 L2051.2 980.5 L2052.4 977.9 L2053.5 976.0 L2054.5 977.9 L2055.5 980.5 L2057.0 989.4 L2058.4 999.7 L2059.9 1011.7 L2061.4 1023.3 L2062.8 1030.8 L2064.3 1036.6 L2065.7 1037.5 L2067.2 1038.1 L2068.7 1036.9 L2070.1 1035.2 L2071.6 1030.8 L2073.0 1026.3 L2074.5 1023.3 L2076.0 1021.0 L2077.4 1021.3 L2078.9 1021.9 L2080.4 1024.6 L2081.8 1027.8 L2083.6 1031.7 L2085.3 1035.2 L2086.8 1036.4 L2088.2 1037.2 L2089.7 1035.1 L2091.2 1032.2 L2092.6 1026.6 L2094.1 1020.4 L2095.5 1014.2 L2097.0 1008.5 L2098.2 1006.0 L2099.3 1004.1 L2100.8 1003.8 L2102.3 1003.5 L2103.7 1005.6 L2105.2 1008.5 L2106.6 1014.6 L2108.1 1020.4 L2109.9 1022.3 L2111.6 1023.9 L2113.5 1024.8 L2115.4 1025.7 L2117.2 1027.4 L2118.9 1029.2 L2120.8 1032.0 L2122.7 1035.2 L2124.2 1039.0 L2125.6 1042.6 L2127.1 1043.4 L2128.6 1044.0 L2130.0 1042.8 L2131.5 1041.1 L2132.9 1036.9 L2134.4 1032.2 L2135.9 1027.8 L2137.3 1023.3 L2138.8 1018.9 L2140.3 1014.5 L2141.7 1010.6 L2143.2 1007.1 L2144.6 1004.3 L2146.1 1002.0 L2147.3 1001.5 L2148.4 1001.2 L2149.9 1003.0 L2151.4 1005.6 L2153.1 1011.3 L2154.9 1017.4 L2156.6 1021.9 L2158.4 1026.3 L2160.3 1032.1 L2162.2 1038.1 L2163.9 1044.0 L2165.7 1049.9 L2167.6 1057.3 L2169.5 1064.7 L2170.9 1070.4 L2172.4 1075.1 L2173.9 1076.0 L2175.3 1076.6 L2176.8 1074.1 L2178.2 1070.6 L2179.7 1063.8 L2181.2 1055.9 L2182.6 1044.4 L2184.1 1032.2 L2185.5 1018.8 L2187.0 1005.6 L2188.5 993.7 L2189.9 983.4 L2191.4 979.5 L2192.9 976.6 L2194.3 976.3 L2195.8 976.0 L2197.2 978.5 L2198.7 981.9 L2200.2 989.0 L2201.6 996.7 L2203.5 1005.5 L2205.4 1014.5 L2207.2 1024.8 L2208.9 1035.2 L2210.7 1044.1 L2212.4 1052.9 L2214.3 1062.0 L2216.2 1070.6 L2217.7 1075.6 L2219.1 1079.5 L2220.6 1079.9 L2222.1 1080.1 L2223.5 1077.4 L2225.0 1073.6 L2226.5 1066.6 L2227.9 1058.8 L2229.7 1048.6 L2231.4 1038.1 L2233.0 1027.7 L2234.6 1017.4 L2236.1 1009.6 L2237.6 1002.6 L2239.0 998.5 L2240.5 995.2 L2241.8 994.4 L2243.1 993.8 L2244.6 996.3 L2246.0 999.7 L2247.6 1005.4 L2249.2 1011.5 L2251.0 1017.3 L2252.8 1023.3 L2254.2 1030.7 L2255.7 1038.1 L2257.4 1044.2 L2259.2 1049.9 L2260.6 1055.5 L2262.1 1060.3 L2263.6 1061.2 L2265.0 1061.8 L2266.5 1060.6 L2267.9 1058.8 L2269.4 1053.4 L2270.9 1047.0 L2272.3 1038.2 L2273.8 1029.2 L2275.7 1019.9 L2277.6 1011.5 L2279.3 1007.4 L2281.1 1004.1 L2283.0 1003.2 L2284.9 1002.6 L2286.6 1003.4 L2288.4 1004.1 L2290.3 1003.2 L2292.2 1002.0 L2294.1 1000.8 L2296.0 999.7 L2297.5 999.3 L2298.9 999.1 L2300.4 1001.9 L2301.8 1005.6 L2303.3 1011.2 L2304.8 1017.4 L2306.2 1024.8 L2307.7 1032.2 L2309.1 1038.4 L2310.6 1044.0 L2312.4 1048.0 L2314.1 1051.4 L2316.3 1054.7 L2318.5 1057.3 L2320.4 1057.9 L2322.3 1058.2 L2324.1 1057.3 L2325.8 1055.9 L2327.3 1050.5 L2328.7 1044.0 L2330.2 1035.3 L2331.6 1026.3 L2333.4 1015.9 L2335.2 1005.6 L2336.6 996.5 L2338.1 987.8 L2339.5 981.6 L2341.0 976.0 L2342.6 972.4 L2344.2 969.5 L2345.7 969.0 L2347.1 968.6 L2348.5 970.5 L2349.8 973.1 L2351.2 979.8 L2352.7 987.8 L2354.1 1001.9 L2355.6 1017.4 L2357.1 1035.3 L2358.5 1052.9 L2360.0 1066.8 L2361.5 1079.5 L2362.9 1088.6 L2364.4 1095.8 L2365.5 1096.7 L2366.7 1097.3 L2368.2 1095.4 L2369.6 1092.8 L2371.1 1085.3 L2372.6 1076.6 L2374.0 1066.3 L2375.5 1055.9 L2377.2 1043.9 L2379.0 1032.2 L2380.9 1020.1 L2382.8 1008.5 L2384.7 999.2 L2386.6 990.8 L2388.3 986.0 L2390.1 981.9 L2391.6 980.2 L2393.0 979.0 L2394.5 980.9 L2395.9 983.4 L2397.7 987.6 L2399.4 992.3" fill="none" stroke="#000" stroke-width="3.5" stroke-linejoin="round" stroke-linecap="butt"/>
<text transform="translate(253.2,68.6) scale(1,1.040)" font-size="69.0" text-anchor="end">600</text>
<text transform="translate(253.2,162.1) scale(1,1.040)" font-size="69.0" text-anchor="end">400</text>
<text transform="translate(253.2,255.7) scale(1,1.040)" font-size="69.0" text-anchor="end">200</text>
<text transform="translate(244.2,349.2) scale(1,1.040)" font-size="69.0" text-anchor="end">0</text>
<text transform="translate(253.2,442.7) scale(1,1.040)" font-size="69.0" text-anchor="end">−200</text>
<text transform="translate(253.2,536.3) scale(1,1.040)" font-size="69.0" text-anchor="end">−400</text>
<text transform="translate(253.2,629.8) scale(1,1.040)" font-size="69.0" text-anchor="end">−600</text>
<text transform="translate(253.2,769.5) scale(1,1.040)" font-size="69.0" text-anchor="end">600</text>
<text transform="translate(253.2,863.0) scale(1,1.040)" font-size="69.0" text-anchor="end">400</text>
<text transform="translate(253.2,956.5) scale(1,1.040)" font-size="69.0" text-anchor="end">200</text>
<text transform="translate(244.2,1050.0) scale(1,1.040)" font-size="69.0" text-anchor="end">0</text>
<text transform="translate(253.2,1143.4) scale(1,1.040)" font-size="69.0" text-anchor="end">−200</text>
<text transform="translate(253.2,1236.9) scale(1,1.040)" font-size="69.0" text-anchor="end">−400</text>
<text transform="translate(253.2,1330.4) scale(1,1.040)" font-size="69.0" text-anchor="end">−600</text>
<text transform="translate(265.7,1410.1) scale(1,1.040)" font-size="69.0" text-anchor="start">0</text>
<text transform="translate(483.8,1410.1) scale(1,1.040)" font-size="69.0" text-anchor="start">1</text>
<text transform="translate(694.4,1410.1) scale(1,1.040)" font-size="69.0" text-anchor="start">2</text>
<text transform="translate(911.2,1410.1) scale(1,1.040)" font-size="69.0" text-anchor="start">3</text>
<text transform="translate(1105.5,1410.1) scale(1,1.040)" font-size="69.0" text-anchor="start">4</text>
<text transform="translate(1321.8,1410.1) scale(1,1.040)" font-size="69.0" text-anchor="start">5</text>
<text transform="translate(1535.8,1410.1) scale(1,1.040)" font-size="69.0" text-anchor="start">6</text>
<text transform="translate(1752.8,1410.1) scale(1,1.040)" font-size="69.0" text-anchor="start">7</text>
<text transform="translate(1967.5,1410.1) scale(1,1.040)" font-size="69.0" text-anchor="start">8</text>
<text transform="translate(2182.5,1410.1) scale(1,1.040)" font-size="69.0" text-anchor="start">9</text>
<text transform="translate(2352.1,1410.1) scale(1,1.040)" font-size="69.0" text-anchor="start">10</text>
<text transform="translate(66.0,623.0) rotate(-90) scale(1,1.030)" font-size="69.5">Acceleration (μm/s<tspan font-size="40.8" dy="-22.5">2</tspan><tspan dy="22.5">)</tspan></text>
<text transform="translate(66.0,1310.0) rotate(-90) scale(1,1.030)" font-size="69.5">Acceleration (μm/s<tspan font-size="40.8" dy="-22.5">2</tspan><tspan dy="22.5">)</tspan></text>
<text transform="translate(1106.7,1497.0) scale(1,1.030)" font-size="69.7" text-anchor="start">Time (s)</text>
<text transform="translate(2375.3,113.4) scale(1,1.030)" font-size="69.3" text-anchor="end">Accelerometer</text>
<text transform="translate(2380.6,815.9) scale(1,1.030)" font-size="69.7" text-anchor="end">Acceleration (DAS)</text>
<text transform="translate(311.3,586.7) scale(1,1.030)" font-size="49.7" text-anchor="start">SOB3 X High gain</text>
<text transform="translate(311.8,1290.2) scale(1,1.030)" font-size="49.7" text-anchor="start">DAS 10265 ch</text>
<text transform="translate(1896.4,579.7) scale(1,1.030)" font-size="44.7" text-anchor="start">Bandpass 1 - 10 - 15 Hz</text>
<text transform="translate(1896.5,1280.0) scale(1,1.030)" font-size="44.7" text-anchor="start">Bandpass 1 - 10 - 15 Hz</text>
<text transform="translate(1605.8,1283.1) scale(1,1.030)" font-size="44.7" text-anchor="start">Vs=2.0 km/s</text>
<text transform="translate(1662.3,1474.8) scale(1,1.030)" font-size="54.3" text-anchor="start">Shot#355</text>
<text transform="translate(1662.0,1540.0) scale(1,1.040)" font-size="54.6" text-anchor="start">2020-11-05 03:31:19.2196 UTC</text>
</svg></body></html>
